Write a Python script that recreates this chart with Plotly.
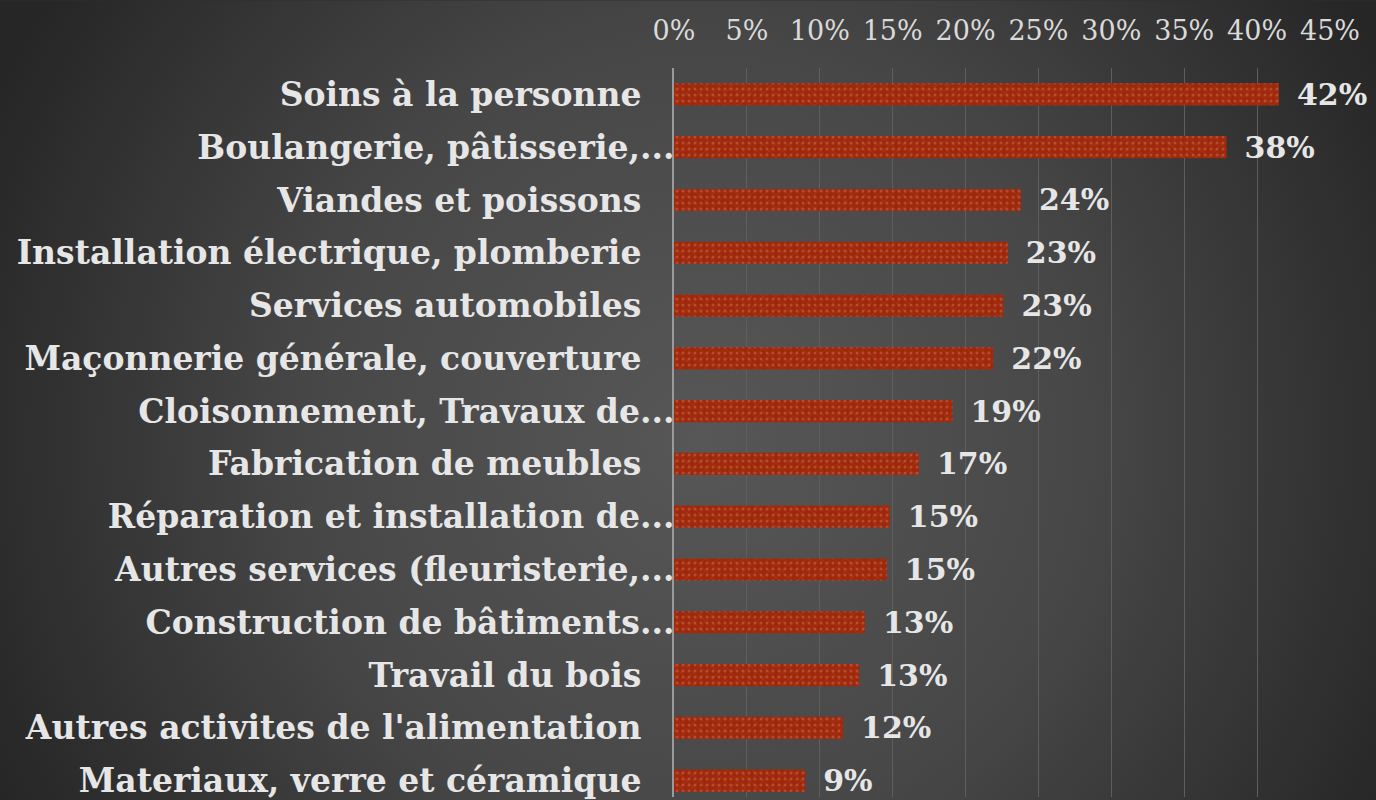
import base64
import plotly.graph_objects as go

categories = [
    "Soins à la personne",
    "Boulangerie, pâtisserie,...",
    "Viandes et poissons",
    "Installation électrique, plomberie",
    "Services automobiles",
    "Maçonnerie générale, couverture",
    "Cloisonnement, Travaux de...",
    "Fabrication de meubles",
    "Réparation et installation de...",
    "Autres services (fleuristerie,...",
    "Construction de bâtiments...",
    "Travail du bois",
    "Autres activites de l'alimentation",
    "Materiaux, verre et céramique",
]
values = [41.5, 37.9, 23.8, 22.9, 22.6, 21.9, 19.1, 16.8, 14.8, 14.6, 13.1, 12.7, 11.6, 9.0]
tick_values = [0, 5, 10, 15, 20, 25, 30, 35, 40, 45]
tick_labels = ["0%", "5%", "10%", "15%", "20%", "25%", "30%", "35%", "40%", "45%"]

W, H = 1376, 800
ML, MR, MT, MB = 674, 46, 68, 0
pw, ph = W - ML - MR, H - MT - MB

svg = f'''<svg xmlns="http://www.w3.org/2000/svg" width="{W}" height="{H}" viewBox="0 0 {W} {H}">
<defs><radialGradient id="g" cx="700" cy="430" r="780" gradientUnits="userSpaceOnUse">
<stop offset="0" stop-color="#575757"/><stop offset="0.5" stop-color="#474747"/><stop offset="1" stop-color="#262626"/>
</radialGradient></defs><rect width="{W}" height="{H}" fill="url(#g)"/></svg>'''
bg = "data:image/svg+xml;base64," + base64.b64encode(svg.encode()).decode()

ticktext = [c if c.endswith("...") else c + "\u2003" for c in categories]

fig = go.Figure()
fig.add_trace(go.Bar(
    y=categories, x=values, orientation="h",
    marker=dict(
        color="#a0280a",
        line=dict(width=0),
        pattern=dict(shape=".", fgcolor="rgba(235,195,180,0.45)", size=6, solidity=0.2, fillmode="overlay"),
    ),
    text=[f"\u2002{v:.0f}%" for v in values],
    textposition="outside",
    constraintext="none",
    textfont=dict(family="DejaVu Serif", size=30, color="#e6e6e6", weight="bold"),
    cliponaxis=False,
    hoverinfo="skip",
))
fig.add_trace(go.Bar(
    y=categories, x=values, orientation="h",
    marker=dict(
        color="rgba(0,0,0,0)",
        line=dict(width=0),
        pattern=dict(shape="x", fgcolor="rgba(230,180,165,0.25)", size=9, solidity=0.15, fillmode="overlay"),
    ),
    hoverinfo="skip",
))

fig.update_layout(
    width=W, height=H,
    margin=dict(l=ML, r=MR, t=MT, b=MB, pad=0),
    paper_bgcolor="#2e2e2e",
    plot_bgcolor="rgba(0,0,0,0)",
    barmode="overlay",
    bargap=0.58,
    showlegend=False,
    images=[dict(source=bg, xref="paper", yref="paper", x=-ML / pw, y=1 + MT / ph,
                 sizex=W / pw, sizey=(H + 20) / ph, xanchor="left", yanchor="top",
                 sizing="stretch", layer="below")],
    xaxis=dict(
        side="top", range=[0, 45], tickvals=tick_values, ticktext=tick_labels,
        showgrid=True, gridcolor="#5e5e5e", gridwidth=1,
        zeroline=False, showline=False, ticks="",
        tickfont=dict(family="DejaVu Serif", size=27, color="#dadada"),
        ticklabelstandoff=22,
    ),
    yaxis=dict(
        type="category", range=[13.31, -0.5],
        tickvals=categories, ticktext=ticktext,
        showgrid=False, zeroline=False, showline=True, linecolor="#9a9a9a", linewidth=2,
        ticks="", ticklabelstandoff=-9,
        tickfont=dict(family="DejaVu Serif", size=33, color="#e6e6e6", weight="bold"),
    ),
)

fig.write_html("out.html")
